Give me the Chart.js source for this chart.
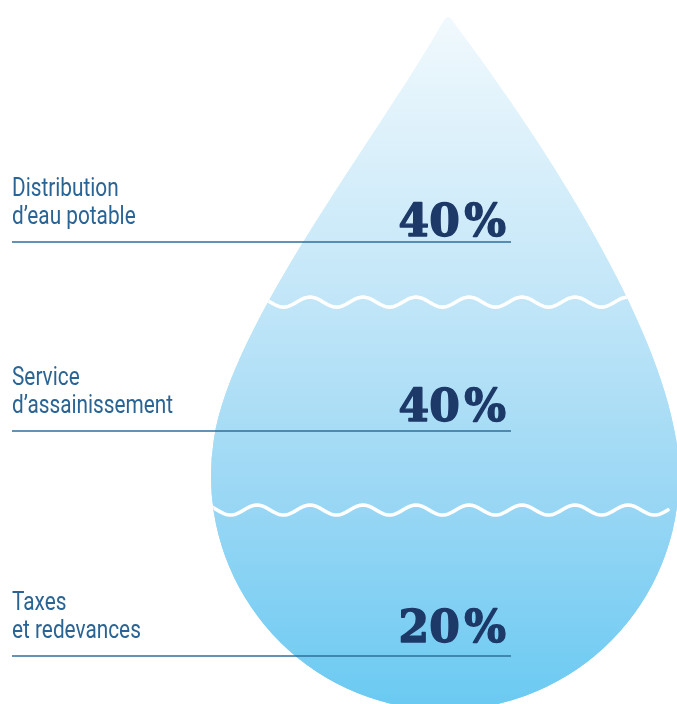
<!DOCTYPE html>
<html lang="fr">
<head>
<meta charset="utf-8">
<title>Répartition du prix de l’eau</title>
<script src="https://cdn.jsdelivr.net/npm/chart.js@4.4.1/dist/chart.umd.min.js"></script>
<style>
  html, body { margin: 0; padding: 0; background: #fff; }
  canvas { display: block; }
</style>
</head>
<body>
<canvas id="drop" width="677" height="704"></canvas>
<script>
// bottom to top, the same order the bars stack in
const segmentNames = [
    ['Taxes', 'et redevances'],
    ['Service', 'd’assainissement'],
    ['Distribution', 'd’eau potable']
];
const shares = [20, 40, 40];

// hidden value axis, stretched so the stack sits inside the drop
const yMin = -17.3;
const yMax = 118.1;

// page layout for the side captions (pixels)
const ruleY = [656, 431, 242];
const pctY = [642, 421, 236];
const ruleLeft = 12;
const ruleRight = 511;

const labelColor = '#2a6494';
const ruleColor = '#2f6e9a';
const pctColor = '#1d3968';

// drop outline: round bottom + two curved sides meeting at the tip
const drop = { tipX: 448, tipY: 15, cx: 445, cy: 476, r: 234, joinY: 440 };

function tracePath(ctx) {
    const d = drop;
    const dy = d.joinY - d.cy;
    const dx = Math.sqrt(d.r * d.r - dy * dy);
    const angR = Math.atan2(dy, dx);
    const angL = Math.PI - angR;
    ctx.beginPath();
    ctx.moveTo(d.tipX - 4, d.tipY + 5);
    ctx.quadraticCurveTo(d.tipX, d.tipY - 1, d.tipX + 4, d.tipY + 5);
    ctx.bezierCurveTo(d.tipX + 170 * 0.6, d.tipY + 170 * 0.8,
        d.cx + dx - 120 * 0.154, d.joinY - 120 * 0.988,
        d.cx + dx, d.joinY);
    ctx.arc(d.cx, d.cy, d.r, angR, angL, false);
    ctx.bezierCurveTo(d.cx - dx + 120 * 0.154, d.joinY - 120 * 0.988,
        d.tipX - 150 * 0.5, d.tipY + 150 * 0.866,
        d.tipX - 4, d.tipY + 5);
    ctx.closePath();
}

function waterFill(ctx) {
    const g = ctx.createLinearGradient(0, drop.tipY, 0, 704);
    g.addColorStop(0, '#f1f9fd');
    g.addColorStop(0.41, '#c2e6f8');
    g.addColorStop(0.72, '#97d6f4');
    g.addColorStop(1, '#6bcaf2');
    return g;
}

function drawWave(ctx, y) {
    const period = 53, amp = 5, crestX = 257;
    ctx.beginPath();
    for (let x = 150; x <= 668; x += 1) {
        const yy = y - amp * Math.cos(2 * Math.PI * (x - crestX) / period);
        if (x === 150) ctx.moveTo(x, yy); else ctx.lineTo(x, yy);
    }
    ctx.strokeStyle = '#ffffff';
    ctx.lineWidth = 3.6;
    ctx.lineCap = 'round';
    ctx.stroke();
}

// narrow caption text: regular face squeezed horizontally
function narrowText(ctx, text, x, y) {
    ctx.save();
    ctx.translate(x, y);
    ctx.scale(0.8, 1);
    ctx.fillText(text, 0, 0);
    ctx.restore();
}

const dropPlugin = {
    id: 'waterDrop',
    beforeDatasetsDraw(chart) {
        const ctx = chart.ctx;
        ctx.save();
        tracePath(ctx);
        ctx.fillStyle = waterFill(ctx);
        ctx.fill();
        tracePath(ctx);
        ctx.clip();
    },
    afterDatasetsDraw(chart) {
        const ctx = chart.ctx;
        // waves on the joins between stacked segments
        for (let i = 0; i < shares.length - 1; i++) {
            const bar = chart.getDatasetMeta(i).data[0];
            drawWave(ctx, bar.y);
        }
        ctx.restore();

        ctx.save();
        for (let i = 0; i < shares.length; i++) {
            ctx.strokeStyle = ruleColor;
            ctx.lineWidth = 1.3;
            ctx.beginPath();
            ctx.moveTo(ruleLeft, ruleY[i]);
            ctx.lineTo(ruleRight, ruleY[i]);
            ctx.stroke();

            ctx.fillStyle = labelColor;
            ctx.font = '26px Roboto, "DejaVu Sans", sans-serif';
            ctx.textAlign = 'left';
            ctx.textBaseline = 'alphabetic';
            narrowText(ctx, segmentNames[i][0], ruleLeft, ruleY[i] - 46);
            narrowText(ctx, segmentNames[i][1], ruleLeft, ruleY[i] - 18);

            ctx.fillStyle = pctColor;
            ctx.strokeStyle = pctColor;
            ctx.lineWidth = 1.4;
            ctx.lineJoin = 'round';
            ctx.font = 'bold 44px "DejaVu Serif", serif';
            ctx.textAlign = 'right';
            const pct = shares[i] + '\u200a%';
            ctx.fillText(pct, 506, pctY[i]);
            ctx.strokeText(pct, 506, pctY[i]);
        }
        ctx.restore();
    }
};

const ctx = document.getElementById('drop').getContext('2d');
const chart = new Chart(ctx, {
    type: 'bar',
    data: {
        labels: ['Prix de l’eau'],
        datasets: shares.map((v, i) => ({
            label: segmentNames[i].join(' '),
            data: [v],
            base: i === 0 ? yMin : undefined,
            backgroundColor: (c) => waterFill(c.chart.ctx),
            borderWidth: 0,
            barPercentage: 1,
            categoryPercentage: 1
        }))
    },
    options: {
        responsive: false,
        devicePixelRatio: 1,
        animation: false,
        layout: { padding: 0 },
        scales: {
            x: { stacked: true, display: false },
            y: { stacked: true, display: false, min: yMin, max: yMax }
        },
        plugins: {
            legend: { display: false },
            tooltip: { enabled: false }
        }
    },
    plugins: [dropPlugin]
});
</script>
</body>
</html>
